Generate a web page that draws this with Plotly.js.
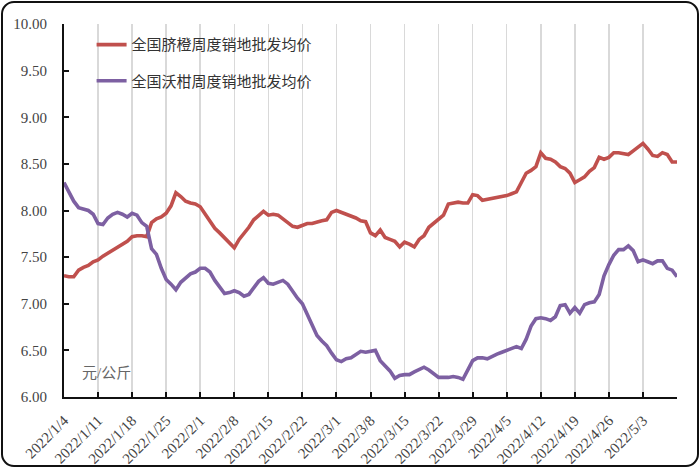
<!DOCTYPE html>
<html>
<head>
<meta charset="utf-8">
<script src="https://cdn.plot.ly/plotly-3.0.1.min.js"></script>
<style>
  html, body { margin: 0; padding: 0; background: #fff; }
  #wrap { position: relative; width: 700px; height: 468px; }
  #chart { position: absolute; left: 0; top: 0; width: 700px; height: 468px; }
  #frame { position: absolute; left: 1px; top: 1px; width: 694px; height: 462px;
           border: 2px solid #111; border-radius: 13px; pointer-events: none; }
</style>
</head>
<body>
<div id="wrap"><div id="chart"></div><div id="frame"></div></div>
<script>
// Dates (daily, 2022/1/4 - 2022/5/10)
const dates = [
 "2022-01-04","2022-01-05","2022-01-06","2022-01-07","2022-01-08","2022-01-09","2022-01-10",
 "2022-01-11","2022-01-12","2022-01-13","2022-01-14","2022-01-15","2022-01-16","2022-01-17",
 "2022-01-18","2022-01-19","2022-01-20","2022-01-21","2022-01-22","2022-01-23","2022-01-24",
 "2022-01-25","2022-01-26","2022-01-27","2022-01-28","2022-01-29","2022-01-30","2022-01-31",
 "2022-02-01","2022-02-02","2022-02-03","2022-02-04","2022-02-05","2022-02-06","2022-02-07",
 "2022-02-08","2022-02-09","2022-02-10","2022-02-11","2022-02-12","2022-02-13","2022-02-14",
 "2022-02-15","2022-02-16","2022-02-17","2022-02-18","2022-02-19","2022-02-20","2022-02-21",
 "2022-02-22","2022-02-23","2022-02-24","2022-02-25","2022-02-26","2022-02-27","2022-02-28",
 "2022-03-01","2022-03-02","2022-03-03","2022-03-04","2022-03-05","2022-03-06","2022-03-07",
 "2022-03-08","2022-03-09","2022-03-10","2022-03-11","2022-03-12","2022-03-13","2022-03-14",
 "2022-03-15","2022-03-16","2022-03-17","2022-03-18","2022-03-19","2022-03-20","2022-03-21",
 "2022-03-22","2022-03-23","2022-03-24","2022-03-25","2022-03-26","2022-03-27","2022-03-28",
 "2022-03-29","2022-03-30","2022-03-31","2022-04-01","2022-04-02","2022-04-03","2022-04-04",
 "2022-04-05","2022-04-06","2022-04-07","2022-04-08","2022-04-09","2022-04-10","2022-04-11",
 "2022-04-12","2022-04-13","2022-04-14","2022-04-15","2022-04-16","2022-04-17","2022-04-18",
 "2022-04-19","2022-04-20","2022-04-21","2022-04-22","2022-04-23","2022-04-24","2022-04-25",
 "2022-04-26","2022-04-27","2022-04-28","2022-04-29","2022-04-30","2022-05-01","2022-05-02",
 "2022-05-03","2022-05-04","2022-05-05","2022-05-06","2022-05-07","2022-05-08","2022-05-09",
 "2022-05-10"
];

// 全国脐橙周度销地批发均价 (元/公斤)
const navelOrange = [
 7.30,7.29,7.29,7.36,7.39,7.41,7.45,
 7.47,7.51,7.54,7.57,7.60,7.63,7.67,
 7.72,7.73,7.73,7.72,7.87,7.91,7.93,
 7.97,8.05,8.19,8.15,8.10,8.08,8.07,
 8.04,7.96,7.88,7.81,7.76,7.71,7.65,
 7.60,7.69,7.75,7.82,7.90,7.94,7.99,
 7.95,7.96,7.95,7.91,7.87,7.83,7.82,
 7.84,7.86,7.86,7.88,7.89,7.90,7.98,
 8.00,7.98,7.97,7.95,7.92,7.89,7.88,
 7.76,7.73,7.79,7.71,7.69,7.67,7.61,
 7.66,7.64,7.61,7.69,7.73,7.82,7.86,
 7.91,7.95,8.07,8.08,8.09,8.08,8.08,
 8.17,8.16,8.11,8.12,8.13,8.14,8.15,
 8.16,8.18,8.20,8.30,8.40,8.43,8.47,
 8.62,8.56,8.55,8.52,8.47,8.45,8.40,
 8.30,8.33,8.36,8.42,8.46,8.57,8.55,
 8.57,8.62,8.62,8.61,8.60,8.64,8.68,
 8.72,8.66,8.59,8.58,8.62,8.60,8.52,
 8.52
];

// 全国沃柑周度销地批发均价 (元/公斤)
const wogan = [
 8.30,8.20,8.10,8.03,8.01,8.00,7.96,
 7.86,7.85,7.92,7.96,7.98,7.96,7.93,
 7.97,7.95,7.87,7.83,7.59,7.53,7.38,
 7.26,7.21,7.15,7.23,7.27,7.32,7.34,
 7.38,7.38,7.34,7.25,7.18,7.11,7.12,
 7.14,7.12,7.08,7.10,7.17,7.24,7.28,
 7.22,7.21,7.23,7.25,7.21,7.13,7.06,
 7.00,6.88,6.76,6.66,6.60,6.55,6.47,
 6.40,6.38,6.41,6.42,6.46,6.49,6.48,
 6.49,6.50,6.39,6.33,6.28,6.20,6.23,
 6.24,6.24,6.27,6.29,6.32,6.29,6.25,
 6.21,6.21,6.21,6.22,6.21,6.19,6.30,
 6.39,6.42,6.42,6.41,6.44,6.46,6.48,
 6.50,6.52,6.54,6.52,6.62,6.76,6.84,
 6.85,6.84,6.82,6.86,6.98,6.99,6.90,
 6.96,6.90,6.99,7.01,7.02,7.10,7.30,
 7.42,7.52,7.58,7.58,7.62,7.57,7.45,
 7.47,7.45,7.43,7.46,7.46,7.38,7.36,
 7.29
];

const seriesNames = ["全国脐橙周度销地批发均价", "全国沃柑周度销地批发均价"];

// x-axis ticks (weekly)
const tickDates = ["2022-01-04","2022-01-11","2022-01-18","2022-01-25","2022-02-01","2022-02-08",
  "2022-02-15","2022-02-22","2022-03-01","2022-03-08","2022-03-15","2022-03-22","2022-03-29",
  "2022-04-05","2022-04-12","2022-04-19","2022-04-26","2022-05-03","2022-05-10"];
const tickLabels = ["2022/1/4","2022/1/11","2022/1/18","2022/1/25","2022/2/1","2022/2/8",
  "2022/2/15","2022/2/22","2022/3/1","2022/3/8","2022/3/15","2022/3/22","2022/3/29",
  "2022/4/5","2022/4/12","2022/4/19","2022/4/26","2022/5/3",""];

const yTicks = [6, 6.5, 7, 7.5, 8, 8.5, 9, 9.5, 10];
const yTickLabels = ["6.00","6.50","7.00","7.50","8.00","8.50","9.00","9.50","10.00"];

const unitLabel = "元/公斤";

const serif = '"Liberation Serif", "Times New Roman", "Noto Sans CJK SC", serif';

const traces = [
  { x: dates, y: navelOrange, name: seriesNames[0], type: "scatter", mode: "lines",
    line: { color: "#C0504D", width: 3.6 }, legend: "legend" },
  { x: dates, y: wogan, name: seriesNames[1], type: "scatter", mode: "lines",
    line: { color: "#7D60A2", width: 3.6 }, legend: "legend2" }
];

const legendCommon = {
  bgcolor: "rgba(0,0,0,0)", borderwidth: 0,
  font: { family: serif, size: 15, color: "#333" },
  xanchor: "left", yanchor: "middle", itemwidth: 30
};

const layout = {
  width: 700, height: 468,
  margin: { l: 64, r: 23, t: 24, b: 71, pad: 0 },
  paper_bgcolor: "#fff", plot_bgcolor: "#fff",
  showlegend: true,
  legend: Object.assign({}, legendCommon, { x: 0.045, y: 0.944 }),
  legend2: Object.assign({}, legendCommon, { x: 0.045, y: 0.847 }),
  xaxis: {
    type: "date",
    range: ["2022-01-04", "2022-05-10"],
    tickmode: "array", tickvals: tickDates, ticktext: tickLabels,
    tickangle: -45,
    tickfont: { family: serif, size: 15, color: "#444" },
    ticklabelstandoff: 7,
    showline: true, linecolor: "#111", linewidth: 2,
    ticks: "inside", ticklen: 5, tickwidth: 2, tickcolor: "#111",
    showgrid: true, gridcolor: "#d9d9d9", gridwidth: 1.5,
    zeroline: false, fixedrange: true
  },
  yaxis: {
    range: [6, 10],
    tickmode: "array", tickvals: yTicks, ticktext: yTickLabels,
    tickfont: { family: serif, size: 15, color: "#444" },
    showline: true, linecolor: "#111", linewidth: 2,
    ticks: "inside", ticklen: 5, tickwidth: 2, tickcolor: "#111",
    ticklabelstandoff: 12,
    showgrid: false, zeroline: false, fixedrange: true
  },
  annotations: [{
    xref: "paper", yref: "paper", x: 0.026, y: 0.064,
    xanchor: "left", yanchor: "middle", showarrow: false,
    text: unitLabel, font: { family: serif, size: 15, color: "#666" }
  }]
};

Plotly.newPlot("chart", traces, layout, { displayModeBar: false, staticPlot: true });
</script>
</body>
</html>
